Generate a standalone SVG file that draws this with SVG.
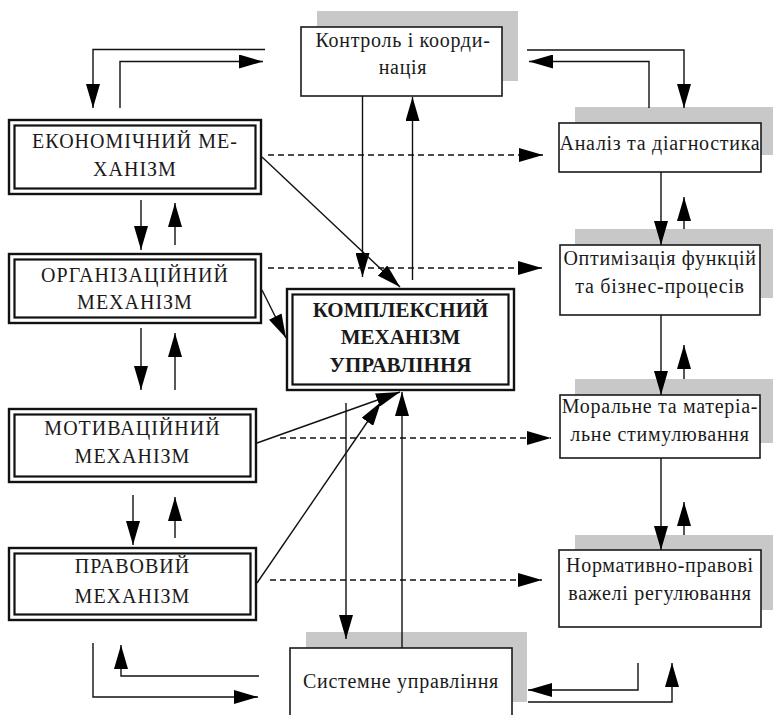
<svg xmlns="http://www.w3.org/2000/svg" width="774" height="715" viewBox="0 0 774 715">
<style>
  .t{font-family:"Liberation Serif","Times New Roman",serif;font-size:20px;letter-spacing:0.7px;fill:#1a1a1a;text-anchor:middle}
  .tb{font-family:"Liberation Serif","Times New Roman",serif;font-size:21px;font-weight:bold;fill:#1a1a1a;text-anchor:middle}
  .box{fill:#fff;stroke:#1a1a1a;stroke-width:1.6}
  .shadow{fill:#c8c8c8}
  .dbo{fill:#fff;stroke:#111;stroke-width:2.4}
  .dbi{fill:none;stroke:#111;stroke-width:2.2}
  .c{fill:none;stroke:#111;stroke-width:1.4}
  .d{fill:none;stroke:#111;stroke-width:1.3;stroke-dasharray:6 4}
</style>
<defs>
  <marker id="ah" markerUnits="userSpaceOnUse" markerWidth="24" markerHeight="14" refX="24" refY="7" orient="auto" viewBox="0 0 24 14">
    <path d="M0,0 L24,7 L0,14 z" fill="#000"/>
  </marker>
</defs>

<!-- Shadows -->
<g id="shadows">
  <rect class="shadow" x="317" y="11" width="201" height="70"/>
  <rect class="shadow" x="575" y="107" width="198" height="48"/>
  <rect class="shadow" x="575" y="229" width="198" height="69"/>
  <rect class="shadow" x="575" y="379" width="198" height="64"/>
  <rect class="shadow" x="575" y="535" width="198" height="75"/>
  <rect class="shadow" x="306" y="632" width="221" height="70"/>
</g>

<g id="n-kontrol">
  <rect class="box" x="301" y="27" width="201" height="69"/>
  <text class="t" x="403" y="47">Контроль і коорди-</text>
  <text class="t" x="403" y="74">нація</text>
</g>
<g id="n-analiz">
  <rect class="box" x="559" y="123" width="202" height="49"/>
  <text class="t" x="660" y="150">Аналіз та діагностика</text>
</g>
<g id="n-optym">
  <rect class="box" x="560" y="245" width="200" height="70"/>
  <text class="t" x="660" y="265">Оптимізація функцій</text>
  <text class="t" x="660" y="293">та бізнес-процесів</text>
</g>
<g id="n-moral">
  <rect class="box" x="560" y="395" width="200" height="63"/>
  <text class="t" x="660" y="413">Моральне та матеріа-</text>
  <text class="t" x="660" y="441">льне стимулювання</text>
</g>
<g id="n-normat">
  <rect class="box" x="559" y="550" width="202" height="77"/>
  <text class="t" x="660" y="572">Нормативно-правові</text>
  <text class="t" x="660" y="600">важелі регулювання</text>
</g>
<g id="n-system">
  <rect class="box" x="290" y="648" width="222" height="80"/>
  <text class="t" x="401" y="688">Системне управління</text>
</g>

<g id="n-ekon">
  <rect class="dbo" x="9" y="120" width="252" height="74"/>
  <rect class="dbi" x="14.5" y="125.5" width="241" height="63"/>
  <text class="t" x="135" y="148" style="letter-spacing:1px">ЕКОНОМІЧНИЙ МЕ-</text>
  <text class="t" x="135" y="176" style="letter-spacing:1px">ХАНІЗМ</text>
</g>
<g id="n-org">
  <rect class="dbo" x="9" y="254" width="252" height="69"/>
  <rect class="dbi" x="14.5" y="259.5" width="241" height="58"/>
  <text class="t" x="135" y="282" style="letter-spacing:1px">ОРГАНІЗАЦІЙНИЙ</text>
  <text class="t" x="135" y="309" style="letter-spacing:1px">МЕХАНІЗМ</text>
</g>
<g id="n-motiv">
  <rect class="dbo" x="9" y="409" width="247" height="73"/>
  <rect class="dbi" x="14.5" y="414.5" width="236" height="62"/>
  <text class="t" x="132.5" y="435" style="letter-spacing:1px">МОТИВАЦІЙНИЙ</text>
  <text class="t" x="132.5" y="463" style="letter-spacing:1px">МЕХАНІЗМ</text>
</g>
<g id="n-prav">
  <rect class="dbo" x="9" y="548" width="247" height="72"/>
  <rect class="dbi" x="14.5" y="553.5" width="236" height="61"/>
  <text class="t" x="132.5" y="573" style="letter-spacing:1px">ПРАВОВИЙ</text>
  <text class="t" x="132.5" y="603" style="letter-spacing:1px">МЕХАНІЗМ</text>
</g>
<g id="n-center">
  <rect class="dbo" x="287" y="289" width="227" height="101"/>
  <rect class="dbi" x="292.5" y="294.5" width="216" height="90"/>
  <text class="tb" x="400.5" y="317">КОМПЛЕКСНИЙ</text>
  <text class="tb" x="400.5" y="344">МЕХАНІЗМ</text>
  <text class="tb" x="400.5" y="372">УПРАВЛІННЯ</text>
</g>

<g id="connectors">
  <polyline class="c" points="265,49.5 93,49.5 93,108" marker-end="url(#ah)"/>
  <polyline class="c" points="120,108 120,61.5 263,61.5" marker-end="url(#ah)"/>
  <polyline class="c" points="527,50 684,50 684,108" marker-end="url(#ah)"/>
  <polyline class="c" points="649,108 649,61.5 529,61.5" marker-end="url(#ah)"/>
  <line class="c" x1="362.5" y1="96" x2="362.5" y2="277" marker-end="url(#ah)"/>
  <line class="c" x1="412.5" y1="280" x2="412.5" y2="97" marker-end="url(#ah)"/>
  <line class="c" x1="262" y1="157" x2="400" y2="287" marker-end="url(#ah)"/>
  <line class="c" x1="262" y1="290" x2="286" y2="338" marker-end="url(#ah)"/>
  <line class="c" x1="257" y1="443" x2="400" y2="392" marker-end="url(#ah)"/>
  <line class="c" x1="257" y1="583" x2="381" y2="402" marker-end="url(#ah)"/>
  <line class="c" x1="346" y1="403" x2="346" y2="639" marker-end="url(#ah)"/>
  <line class="c" x1="402" y1="648" x2="402" y2="392" marker-end="url(#ah)"/>
  <line class="c" x1="141" y1="200" x2="141" y2="250" marker-end="url(#ah)"/>
  <line class="c" x1="175" y1="245" x2="175" y2="203" marker-end="url(#ah)"/>
  <line class="c" x1="141" y1="328" x2="141" y2="390" marker-end="url(#ah)"/>
  <line class="c" x1="175" y1="390" x2="175" y2="333" marker-end="url(#ah)"/>
  <line class="c" x1="133" y1="495" x2="133" y2="545" marker-end="url(#ah)"/>
  <line class="c" x1="175" y1="538" x2="175" y2="497" marker-end="url(#ah)"/>
  <line class="d" x1="268" y1="155" x2="543" y2="155" marker-end="url(#ah)"/>
  <line class="d" x1="268" y1="268" x2="542" y2="268" marker-end="url(#ah)"/>
  <line class="d" x1="280" y1="438" x2="551" y2="438" marker-end="url(#ah)"/>
  <line class="d" x1="270" y1="580" x2="542" y2="580" marker-end="url(#ah)"/>
  <line class="c" x1="661" y1="172" x2="661" y2="245" marker-end="url(#ah)"/>
  <line class="c" x1="684" y1="229" x2="684" y2="197" marker-end="url(#ah)"/>
  <line class="c" x1="661" y1="315" x2="661" y2="395" marker-end="url(#ah)"/>
  <line class="c" x1="684" y1="379" x2="684" y2="345" marker-end="url(#ah)"/>
  <line class="c" x1="661" y1="458" x2="661" y2="550" marker-end="url(#ah)"/>
  <line class="c" x1="684" y1="535" x2="684" y2="502" marker-end="url(#ah)"/>
  <polyline class="c" points="93,643 93,697 258,697" marker-end="url(#ah)"/>
  <polyline class="c" points="259,676 121,676 121,645" marker-end="url(#ah)"/>
  <polyline class="c" points="638,663 638,690 528,690" marker-end="url(#ah)"/>
  <polyline class="c" points="528,702 672,702 672,663" marker-end="url(#ah)"/>
</g>
</svg>
